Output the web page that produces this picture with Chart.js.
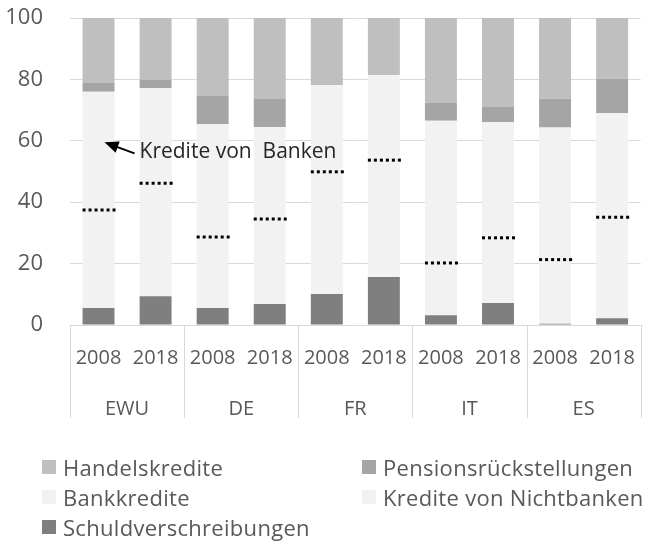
<!DOCTYPE html>
<html lang="de">
<head>
  <meta charset="UTF-8">
  <title>Finanzierungsstruktur</title>
  <script src="https://cdn.jsdelivr.net/npm/chart.js"></script>
  <style>
    body {
      margin: 0;
      padding: 0;
      background: #ffffff;
      overflow: hidden;
      font-family: 'Open Sans', sans-serif;
    }
    .wrap {
      position: relative;
      width: 648px;
      height: 555px;
      overflow: hidden;
    }
    #legend {
      position: absolute;
      left: 42px;
      top: 455px;
      width: 700px;
      display: grid;
      grid-template-columns: 320px 380px;
      row-gap: 6px;
      color: #595959;
      font-size: 22px;
      letter-spacing: 0.3px;
    }
    .item {
      display: flex;
      align-items: center;
      height: 24px;
      white-space: nowrap;
    }
    .box {
      width: 14px;
      height: 14px;
      margin-right: 7px;
      flex: none;
    }
  </style>
</head>
<body>
  <div class="wrap">
    <canvas id="chart" width="648" height="555"></canvas>
    <div id="legend"></div>
  </div>

  <script>
    // Jahre / Länder
    const years = ['2008', '2018', '2008', '2018', '2008', '2018', '2008', '2018', '2008', '2018'];
    const countries = ['EWU', 'DE', 'FR', 'IT', 'ES'];
    const yTicks = [0, 20, 40, 60, 80, 100];

    // Anteile in % (von unten nach oben gestapelt)
    const schuldverschreibungen = [5.5, 9.4, 5.5, 6.8, 10.1, 15.6, 3.2, 7.2, 0.4, 2.2];
    const krediteNichtbanken    = [32.0, 36.8, 23.2, 27.7, 39.8, 38.1, 17.0, 21.2, 20.9, 32.9];
    const bankkredite           = [38.5, 31.0, 36.8, 30.0, 28.3, 27.7, 46.3, 37.7, 43.0, 33.9];
    const pensionen             = [2.8, 2.6, 9.1, 9.1, 0, 0, 5.8, 4.9, 9.4, 11.2];
    const handelskredite        = [21.2, 20.2, 25.4, 26.4, 21.8, 18.6, 27.7, 29.0, 26.3, 19.8];

    const textColor = '#595959';
    const gridColor = '#d9d9d9';
    const fontFamily = "'Open Sans', sans-serif";

    // gepunktete Linie zwischen Nichtbanken und Bankkredite
    const dottedPlugin = {
      id: 'dotted',
      afterDatasetsDraw(chart) {
        const meta = chart.getDatasetMeta(1);
        const ctx = chart.ctx;
        ctx.save();
        ctx.strokeStyle = '#000000';
        ctx.lineWidth = 3;
        ctx.setLineDash([3, 3]);
        meta.data.forEach(bar => {
          ctx.beginPath();
          ctx.moveTo(bar.x - bar.width / 2, bar.y);
          ctx.lineTo(bar.x + bar.width / 2 + 2, bar.y);
          ctx.stroke();
        });
        ctx.restore();
      }
    };

    // Trennlinien der Ländergruppen + Pfeil-Beschriftung
    const extrasPlugin = {
      id: 'extras',
      afterDraw(chart) {
        const ctx = chart.ctx;
        const x = chart.scales.x;
        const y = chart.scales.y;
        const slot = x.getPixelForValue(1) - x.getPixelForValue(0);
        const bottom = chart.scales.x2.bottom - 2;
        ctx.save();
        ctx.strokeStyle = gridColor;
        ctx.lineWidth = 1;
        for (let g = 0; g <= countries.length; g++) {
          const px = Math.round(x.getPixelForValue(g * 2) - slot / 2) + 0.5;
          ctx.beginPath();
          ctx.moveTo(px, y.getPixelForValue(0));
          ctx.lineTo(px, bottom);
          ctx.stroke();
        }

        // Pfeil
        const tipX = x.getPixelForValue(0) + 6;
        const tipY = y.getPixelForValue(59.5);
        const tailX = tipX + 30;
        const tailY = tipY + 11;
        const ang = Math.atan2(tipY - tailY, tipX - tailX);
        ctx.strokeStyle = '#000000';
        ctx.fillStyle = '#000000';
        ctx.lineWidth = 2;
        ctx.beginPath();
        ctx.moveTo(tailX, tailY);
        ctx.lineTo(tipX + 8 * Math.cos(ang + Math.PI), tipY + 8 * Math.sin(ang + Math.PI));
        ctx.stroke();
        ctx.beginPath();
        ctx.moveTo(tipX, tipY);
        ctx.lineTo(tipX - 14 * Math.cos(ang) + 6 * Math.sin(ang), tipY - 14 * Math.sin(ang) - 6 * Math.cos(ang));
        ctx.lineTo(tipX - 14 * Math.cos(ang) - 6 * Math.sin(ang), tipY - 14 * Math.sin(ang) + 6 * Math.cos(ang));
        ctx.closePath();
        ctx.fill();

        ctx.font = '21px ' + fontFamily;
        ctx.fillStyle = '#262626';
        ctx.textBaseline = 'middle';
        ctx.textAlign = 'left';
        ctx.fillText('Kredite von  Banken', tailX + 5, tailY - 1);
        ctx.restore();
      }
    };

    const datasets = [
      { label: 'Schuldverschreibungen', data: schuldverschreibungen, backgroundColor: '#7f7f7f' },
      { label: 'Kredite von Nichtbanken', data: krediteNichtbanken, backgroundColor: '#f2f2f2' },
      { label: 'Bankkredite', data: bankkredite, backgroundColor: '#f2f2f2' },
      { label: 'Pensionsrückstellungen', data: pensionen, backgroundColor: '#a5a5a5' },
      { label: 'Handelskredite', data: handelskredite, backgroundColor: '#bfbfbf' }
    ];
    datasets.forEach(ds => {
      ds.barPercentage = 0.56;
      ds.categoryPercentage = 1;
      ds.borderWidth = 0;
    });

    const chart = new Chart(document.getElementById('chart').getContext('2d'), {
      type: 'bar',
      data: { labels: years, datasets: datasets },
      options: {
        responsive: false,
        animation: false,
        layout: { padding: { top: 18, right: 0, bottom: 135, left: 0 } },
        plugins: {
          legend: { display: false },
          tooltip: { enabled: false }
        },
        scales: {
          x: {
            stacked: true,
            offset: true,
            grid: { display: false },
            border: { display: false },
            ticks: {
              font: { family: fontFamily, size: 20 },
              color: textColor,
              padding: 13,
              maxRotation: 0,
              autoSkip: false
            },
            afterFit: s => { s.height = 50; }
          },
          x2: {
            type: 'category',
            labels: countries,
            position: 'bottom',
            offset: true,
            grid: { display: false },
            border: { display: false },
            ticks: {
              font: { family: fontFamily, size: 20 },
              color: textColor,
              padding: 14,
              maxRotation: 0
            },
            afterFit: s => { s.height = 45; }
          },
          y: {
            stacked: true,
            min: 0,
            max: 100,
            afterBuildTicks: s => { s.ticks = yTicks.map(v => ({ value: v })); },
            grid: { color: gridColor, lineWidth: 1, drawTicks: true, tickLength: 27, tickColor: 'transparent' },
            border: { display: false },
            ticks: {
              font: { family: fontFamily, size: 22 },
              color: textColor,
              padding: 0
            },
            afterFit: s => { s.width = 70; }
          }
        }
      },
      plugins: [dottedPlugin, extrasPlugin]
    });

    // Legende (umgekehrte Stapelreihenfolge)
    const legend = document.getElementById('legend');
    chart.data.datasets.slice().reverse().forEach(ds => {
      const item = document.createElement('div');
      item.className = 'item';
      item.innerHTML = '<span class="box" style="background:' + ds.backgroundColor + '"></span>' + ds.label;
      legend.appendChild(item);
    });
  </script>
</body>
</html>
